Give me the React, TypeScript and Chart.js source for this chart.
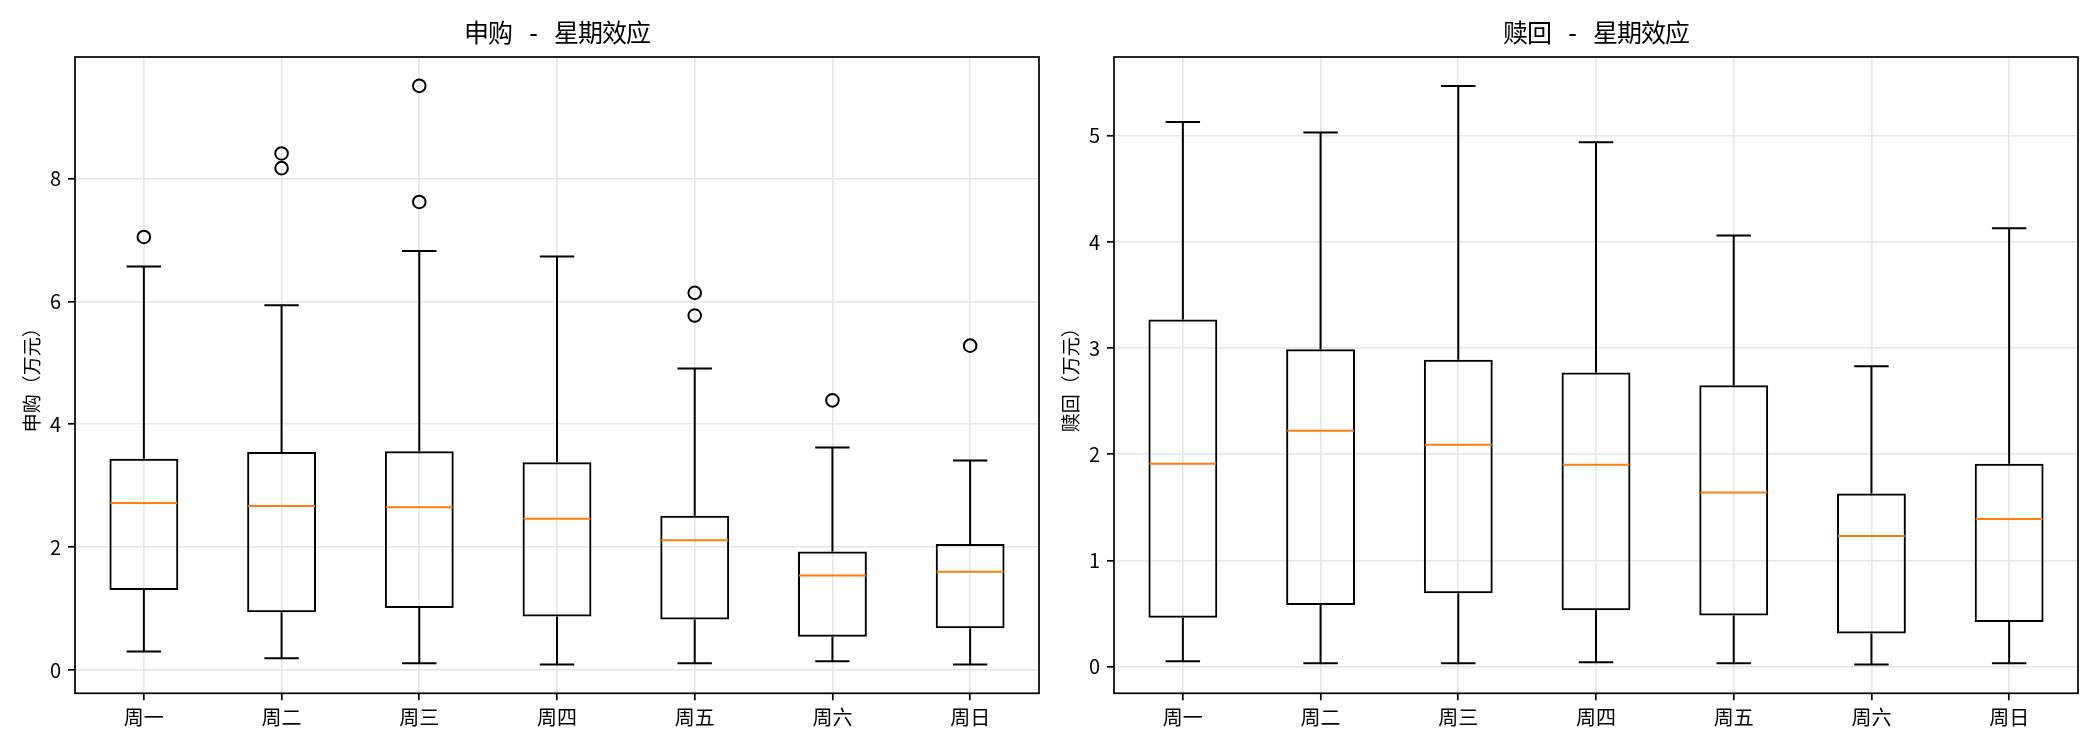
import { useEffect, useRef } from "react";
import { Chart, registerables } from "chart.js";

Chart.register(...registerables);

const days = ["周一", "周二", "周三", "周四", "周五", "周六", "周日"];

// 申购 (subscription) box stats, 万元
const subLow = [0.3, 0.19, 0.11, 0.09, 0.11, 0.14, 0.09];
const subQ1 = [1.3, 0.94, 1.01, 0.87, 0.82, 0.54, 0.68];
const subMed = [2.72, 2.67, 2.65, 2.46, 2.11, 1.54, 1.6];
const subQ3 = [3.44, 3.55, 3.56, 3.38, 2.51, 1.93, 2.05];
const subHigh = [6.57, 5.94, 6.82, 6.73, 4.91, 3.62, 3.41];
const subOutliers = [[7.05], [8.41, 8.17], [9.51, 7.62], [], [6.14, 5.77], [4.39], [5.28]];
const subTicks = [0, 2, 4, 6, 8];

// 赎回 (redemption) box stats, 万元
const redLow = [0.05, 0.03, 0.03, 0.04, 0.03, 0.02, 0.03];
const redQ1 = [0.46, 0.58, 0.69, 0.53, 0.48, 0.31, 0.42];
const redMed = [1.91, 2.22, 2.09, 1.9, 1.64, 1.23, 1.39];
const redQ3 = [3.27, 2.99, 2.89, 2.77, 2.65, 1.63, 1.91];
const redHigh = [5.13, 5.03, 5.47, 4.94, 4.06, 2.83, 4.13];
const redOutliers: number[][] = [[], [], [], [], [], [], []];
const redTicks = [0, 1, 2, 3, 4, 5];

const FONT = "'Noto Sans CJK SC', 'Noto Sans', sans-serif";
// mono Latin glyphs give the wide " - " spacing seen in the titles
const TITLE_FONT = "'DejaVu Sans Mono', 'Noto Sans CJK SC', sans-serif";
Chart.defaults.font.family = FONT;
Chart.defaults.color = "#000";

type Stats = { low: number[]; q1: number[]; med: number[]; q3: number[]; high: number[] };

const boxPlugin = {
  id: "boxWhiskers",
  afterDatasetsDraw(chart: any, _args: any, opts: any) {
    const s: Stats = opts.stats;
    if (!s) return;
    const { ctx } = chart;
    const y = chart.scales.y;
    const meta = chart.getDatasetMeta(0);
    ctx.save();
    ctx.lineWidth = 2;
    meta.data.forEach((bar: any, i: number) => {
      const { x, width } = bar.getProps(["x", "width"], true);
      const cap = width / 4;
      const yLow = y.getPixelForValue(s.low[i]);
      const yQ1 = y.getPixelForValue(s.q1[i]);
      const yQ3 = y.getPixelForValue(s.q3[i]);
      const yHigh = y.getPixelForValue(s.high[i]);
      const yMed = y.getPixelForValue(s.med[i]);
      ctx.strokeStyle = "#000";
      ctx.beginPath();
      ctx.moveTo(x, yQ1);
      ctx.lineTo(x, yLow);
      ctx.moveTo(x, yQ3);
      ctx.lineTo(x, yHigh);
      ctx.moveTo(x - cap, yLow);
      ctx.lineTo(x + cap, yLow);
      ctx.moveTo(x - cap, yHigh);
      ctx.lineTo(x + cap, yHigh);
      ctx.stroke();
      ctx.strokeStyle = "#ff7f0e";
      ctx.beginPath();
      ctx.moveTo(x - width / 2 + 1, yMed);
      ctx.lineTo(x + width / 2 - 1, yMed);
      ctx.stroke();
    });
    ctx.restore();
  },
  afterDraw(chart: any, _args: any, opts: any) {
    const { ctx, chartArea: a } = chart;
    ctx.save();
    ctx.strokeStyle = "#000";
    ctx.lineWidth = 1.7;
    ctx.strokeRect(a.left, a.top, a.right - a.left, a.bottom - a.top);
    if (opts.title) {
      ctx.fillStyle = "#000";
      ctx.font = `25px ${TITLE_FONT}`;
      if ("letterSpacing" in ctx) (ctx as any).letterSpacing = "-1px";
      ctx.textAlign = "center";
      ctx.textBaseline = "middle";
      ctx.fillText(opts.title, (a.left + a.right) / 2, 35);
    }
    ctx.restore();
  },
};

function BoxChart({
  title,
  yLabel,
  stats,
  outliers,
  ticks,
  yMin,
  yMax,
  padRight,
  width,
}: {
  title: string;
  yLabel: string;
  stats: Stats;
  outliers: number[][];
  ticks: number[];
  yMin: number;
  yMax: number;
  padRight: number;
  width: number;
}) {
  const canvasRef = useRef<HTMLCanvasElement>(null);
  const chartRef = useRef<Chart | null>(null);

  useEffect(() => {
    if (!canvasRef.current) return;
    const ctx = canvasRef.current.getContext("2d");
    if (!ctx) return;

    const fliers = outliers.flatMap((vals, i) => vals.map((v) => ({ x: days[i], y: v })));

    chartRef.current?.destroy();
    chartRef.current = new Chart(ctx, {
      type: "bar",
      data: {
        labels: days,
        datasets: [
          {
            data: stats.q1.map((q, i) => [q, stats.q3[i]]) as any,
            backgroundColor: "rgba(0,0,0,0)",
            borderColor: "#000",
            borderWidth: 2,
            borderSkipped: false,
            barPercentage: 0.5,
            categoryPercentage: 1,
          },
          {
            type: "line",
            data: fliers as any,
            showLine: false,
            pointStyle: "circle",
            pointRadius: 6.3,
            pointBorderWidth: 2,
            pointBackgroundColor: "rgba(0,0,0,0)",
            pointBorderColor: "#000",
          } as any,
        ],
      },
      options: {
        responsive: false,
        animation: false,
        events: [],
        layout: { padding: { left: 0, right: padRight, top: 57, bottom: 0 } },
        plugins: {
          legend: { display: false },
          tooltip: { enabled: false },
          title: { display: false },
          boxWhiskers: { stats, title },
        } as any,
        scales: {
          x: {
            offset: true,
            grid: { offset: false, color: "#e6e6e6", lineWidth: 1.6, tickColor: "#000", tickWidth: 1.7, tickLength: 7 },
            border: { display: false },
            ticks: { font: { size: 20, family: FONT }, color: "#000", padding: 5, maxRotation: 0 },
            afterFit: (scale: any) => {
              scale.height = 56.7;
            },
          },
          y: {
            min: yMin,
            max: yMax,
            grid: { color: "#e6e6e6", lineWidth: 1.6, tickColor: "#000", tickWidth: 1.7, tickLength: 7 },
            border: { display: false },
            ticks: { font: { size: 20, family: FONT }, color: "#000", padding: 7 },
            title: {
              display: true,
              text: yLabel,
              color: "#000",
              font: { size: 19, family: FONT, lineHeight: 1.2 },
              padding: { top: 20.6, bottom: 0 },
            },
            afterBuildTicks: (scale: any) => {
              scale.ticks = ticks.map((v) => ({ value: v }));
            },
            afterFit: (scale: any) => {
              scale.width = 75;
            },
          },
        },
      },
      plugins: [boxPlugin],
    });

    return () => chartRef.current?.destroy();
  }, [title, yLabel, stats, outliers, ticks, yMin, yMax, padRight]);

  return <canvas ref={canvasRef} width={width} height={750} style={{ width, height: 750, display: "block" }} />;
}

const subStats: Stats = { low: subLow, q1: subQ1, med: subMed, q3: subQ3, high: subHigh };
const redStats: Stats = { low: redLow, q1: redQ1, med: redMed, q3: redQ3, high: redHigh };

export default function App() {
  return (
    <div style={{ position: "fixed", left: 0, top: 0, width: 2100, height: 750, background: "#fff" }}>
      <div style={{ position: "absolute", left: 0, top: 0 }}>
        <BoxChart
          title="申购 - 星期效应"
          yLabel="申购（万元）"
          stats={subStats}
          outliers={subOutliers}
          ticks={subTicks}
          yMin={-0.38}
          yMax={9.98}
          padRight={11}
          width={1050}
        />
      </div>
      <div style={{ position: "absolute", left: 1039, top: 0 }}>
        <BoxChart
          title="赎回 - 星期效应"
          yLabel="赎回（万元）"
          stats={redStats}
          outliers={redOutliers}
          ticks={redTicks}
          yMin={-0.2525}
          yMax={5.7425}
          padRight={22}
          width={1061}
        />
      </div>
    </div>
  );
}
